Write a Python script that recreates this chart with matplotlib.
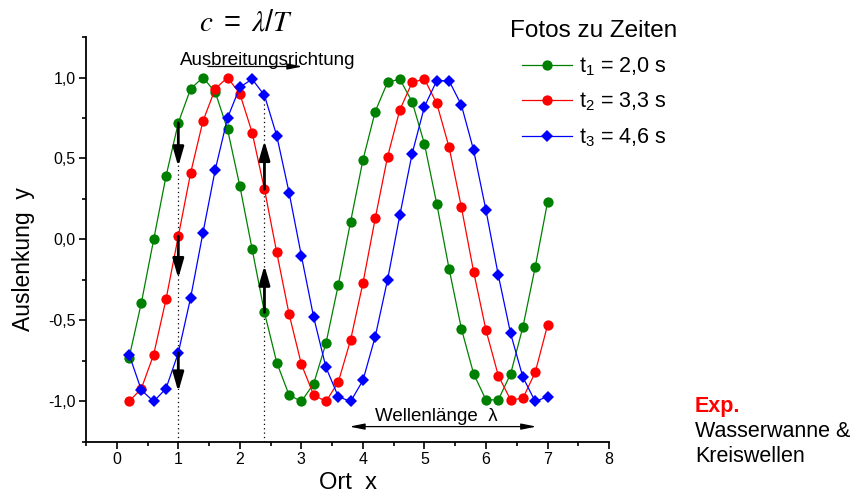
import numpy as np
import matplotlib
matplotlib.use("Agg")
import matplotlib.pyplot as plt
from matplotlib.ticker import MultipleLocator, FuncFormatter

plt.rcParams['font.family'] = ['Liberation Sans', 'DejaVu Sans']
plt.rcParams['mathtext.default'] = 'regular'

# Positions along the tank (m) and water surface displacement at three instants
ort = np.round(np.arange(0.2, 7.01, 0.2), 1)
y_t1 = [-0.73, -0.39, 0.00, 0.39, 0.72, 0.93, 1.00, 0.91, 0.68, 0.33,
        -0.06, -0.45, -0.76, -0.96, -1.00, -0.89, -0.64, -0.28, 0.11, 0.49,
        0.79, 0.97, 0.99, 0.85, 0.59, 0.22, -0.18, -0.55, -0.83, -0.99,
        -0.99, -0.83, -0.54, -0.17, 0.23]
y_t2 = [-1.00, -0.92, -0.71, -0.37, 0.02, 0.41, 0.73, 0.93, 1.00, 0.90,
        0.66, 0.31, -0.08, -0.46, -0.77, -0.96, -1.00, -0.88, -0.62, -0.27,
        0.13, 0.51, 0.80, 0.97, 0.99, 0.84, 0.57, 0.20, -0.20, -0.56,
        -0.84, -0.99, -0.98, -0.82, -0.53]
y_t3 = [-0.71, -0.93, -1.00, -0.92, -0.70, -0.36, 0.04, 0.43, 0.75, 0.94,
        0.99, 0.89, 0.64, 0.29, -0.10, -0.48, -0.79, -0.97, -1.00, -0.87,
        -0.60, -0.25, 0.15, 0.53, 0.82, 0.98, 0.98, 0.83, 0.55, 0.18,
        -0.22, -0.58, -0.85, -1.00, -0.97]
labels = [r"t$_1$ = 2,0 s", r"t$_2$ = 3,3 s", r"t$_3$ = 4,6 s"]
colors = ["#008000", "#ff0000", "#0000ff"]
markers = ["o", "o", "D"]
msizes = [7.4, 7.4, 6.4]

# Motion of single water particles (start, end of arrow) at two fixed places
arrow_x = [1.0, 1.0, 1.0, 2.4, 2.4]
arrow_y0 = [0.72, 0.02, -0.70, 0.31, -0.45]
arrow_y1 = [0.45, -0.24, -0.94, 0.61, -0.16]
guide_x = [1.0, 2.4]
guide_top = [0.72, 0.89]

fig = plt.figure(figsize=(8.66, 4.96), dpi=100)
ax = fig.add_axes([0.0993, 0.1089, 0.6040, 0.8165])

for ys, c, m, ms, lab in zip([y_t1, y_t2, y_t3], colors, markers, msizes, labels):
    ax.plot(ort, ys, color=c, lw=0.9, marker=m, markersize=ms,
            markeredgewidth=0, label=lab, zorder=3)

for gx, gt in zip(guide_x, guide_top):
    ax.plot([gx, gx], [-1.25, gt], color="black", lw=0.9, ls=(0, (1, 2.5)), zorder=2)

for ax_, y0, y1 in zip(arrow_x, arrow_y0, arrow_y1):
    ax.annotate("", xy=(ax_, y1), xytext=(ax_, y0),
                arrowprops=dict(arrowstyle="-|>,head_length=1.15,head_width=0.33",
                                color="black", lw=2.0, shrinkA=0, shrinkB=0),
                zorder=4)

# Direction of propagation
ax.annotate("", xy=(3.02, 1.068), xytext=(1.48, 1.068),
            arrowprops=dict(arrowstyle="-|>,head_length=0.9,head_width=0.18",
                            color="black", lw=0.9, shrinkA=0, shrinkB=0))
ax.text(2.46, 1.077, "Ausbreitungsrichtung", ha="center", va="baseline", fontsize=13.5)

# Wavelength marker
ax.annotate("", xy=(6.82, -1.155), xytext=(3.78, -1.155),
            arrowprops=dict(arrowstyle="<|-|>,head_length=0.9,head_width=0.18",
                            color="black", lw=0.9, shrinkA=0, shrinkB=0))
ax.text(5.19, -1.12, "Wellenlänge  λ", ha="center", va="baseline", fontsize=13.5)

ax.set_xlim(-0.5, 8)
ax.set_ylim(-1.25, 1.25)
ax.xaxis.set_major_locator(MultipleLocator(1))
ax.xaxis.set_minor_locator(MultipleLocator(0.5))
ax.yaxis.set_major_locator(MultipleLocator(0.5))
ax.yaxis.set_minor_locator(MultipleLocator(0.25))
ax.xaxis.set_major_formatter(FuncFormatter(lambda v, p: f"{v:.0f}"))
ax.yaxis.set_major_formatter(FuncFormatter(
    lambda v, p: f"{v:.1f}".replace(".", ",").replace("−", "-")))
ax.tick_params(which="major", direction="out", length=5, width=1.2, labelsize=11.5, pad=2.5)
ax.tick_params(which="minor", direction="out", length=3, width=1.2)
for s in ["top", "right"]:
    ax.spines[s].set_visible(False)
for s in ["left", "bottom"]:
    ax.spines[s].set_linewidth(1.3)

ax.set_xlabel("Ort  x", fontsize=17, labelpad=3)
ax.set_ylabel("Auslenkung  y", fontsize=16.5)
ax.yaxis.set_label_coords(-0.0975, 0.452)

fig.text(0.2846, 0.9395, r"$\mathit{c}\ =\ \mathit{\lambda}/\mathit{T}$", fontsize=21,
         ha="center", va="baseline", math_fontfamily="stix")

leg = fig.legend(loc="upper left", bbox_to_anchor=(0.567, 0.998), frameon=False,
                 title="Fotos zu Zeiten", title_fontsize=17.5, fontsize=15.5,
                 handlelength=2.35, handletextpad=0.3, labelspacing=0.6)

fig.text(0.8025, 0.169, "Exp.", color="#ff0000", fontsize=15.5, fontweight="bold",
         va="baseline")
fig.text(0.8025, 0.119, "Wasserwanne &", fontsize=15.5, va="baseline")
fig.text(0.8025, 0.069, "Kreiswellen", fontsize=15.5, va="baseline")

fig.savefig("out.png", dpi=100)
